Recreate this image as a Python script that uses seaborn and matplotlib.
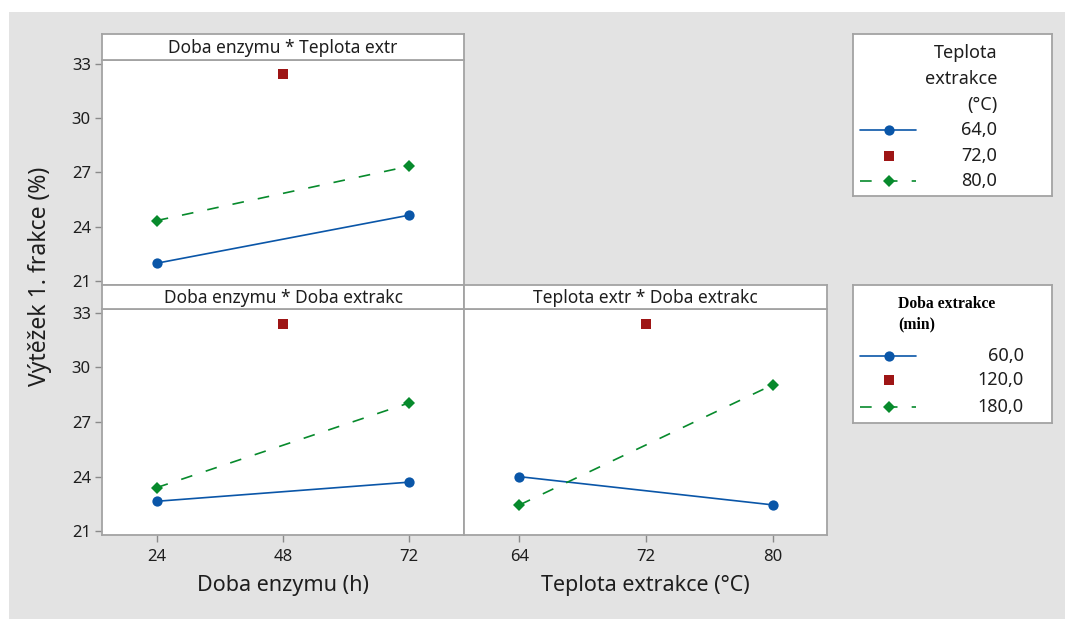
import matplotlib
matplotlib.use("Agg")
import matplotlib.pyplot as plt
import pandas as pd
import seaborn as sns
from matplotlib.lines import Line2D
from matplotlib.patches import Rectangle

sns.set_theme(style="white")
plt.rcParams['font.family'] = ['Noto Sans', 'DejaVu Sans']

# factor levels
enzyme_h = [24, 48, 72]
temp_c = [64, 72, 80]
time_min = [60, 120, 180]

# mean yields of the 1st fraction (%) for each interaction
enz_temp_64 = [22.0, 24.65]
enz_temp_72 = [32.45]
enz_temp_80 = [24.35, 27.35]

enz_time_60 = [22.65, 23.7]
enz_time_120 = [32.4]
enz_time_180 = [23.4, 28.05]

temp_time_60 = [24.0, 22.45]
temp_time_120 = [32.4]
temp_time_180 = [22.45, 29.05]

temp_labels = ["64,0", "72,0", "80,0"]
time_labels = ["60,0", "120,0", "180,0"]
y_ticks = [21, 24, 27, 30, 33]

panel_titles = ["Doba enzymu * Teplota extr",
                "Doba enzymu * Doba extrakc",
                "Teplota extr * Doba extrakc"]

W, H = 1065, 619
BLUE, RED, GREEN = "#0a56a8", "#9e1515", "#078a2c"
FRAME = "#a3a3a3"
TXT = "#1e1e1e"

# style per level position: low (blue, circle, solid), centre (red square), high (green diamond, dashed)
STYLES = [
    dict(color=BLUE, marker="o", markersize=7.4, linestyle="-", linewidth=1.2),
    dict(color=RED, marker="s", markersize=6.8, linestyle="none"),
    dict(color=GREEN, marker="D", markersize=6.2, linestyle=(0, (7, 8.5)), linewidth=1.2),
]


def series_frame(xlev, low, mid, high):
    rows = []
    for i, (xs, ys) in enumerate([([xlev[0], xlev[2]], low),
                                  ([xlev[1]], mid),
                                  ([xlev[0], xlev[2]], high)]):
        for x, y in zip(xs, ys):
            rows.append(dict(x=x, y=y, level=i))
    return pd.DataFrame(rows)


fig = plt.figure(figsize=(W / 100, H / 100), dpi=100)
fig.patch.set_facecolor("white")
fig.add_artist(Rectangle((9 / W, 0), 1 - 9 / W, 1 - 12 / H,
                         transform=fig.transFigure, facecolor="#e3e3e3",
                         edgecolor="none", zorder=-5))


def px_axes(x0, y0, x1, y1):
    return fig.add_axes([x0 / W, 1 - y1 / H, (x1 - x0) / W, (y1 - y0) / H])


def frame_axes(ax):
    for s in ax.spines.values():
        s.set_color(FRAME)
        s.set_linewidth(1.3)


def strip(x0, y0, x1, y1, title):
    sa = px_axes(x0, y0, x1, y1)
    sa.set_facecolor("white")
    sa.set_xticks([])
    sa.set_yticks([])
    frame_axes(sa)
    sa.text(0.5, 0.45, title, ha="center", va="center", fontsize=12.5,
            color=TXT, transform=sa.transAxes)


def panel(x0, y0, x1, y1, df, xlev, xlim, show_x, show_y):
    ax = px_axes(x0, y0, x1, y1)
    ax.set_facecolor("white")
    for i, st in enumerate(STYLES):
        sub = df[df["level"] == i]
        sns.lineplot(data=sub, x="x", y="y", ax=ax, estimator=None,
                     sort=True, legend=False, markeredgewidth=0, **st)
    ax.set_xlim(*xlim)
    ax.set_ylim(20.8, 33.2)
    ax.set_xlabel("")
    ax.set_ylabel("")
    frame_axes(ax)
    ax.tick_params(direction="out", length=5, width=1, color="#8a8a8a",
                   labelsize=12, labelcolor=TXT, pad=3,
                   bottom=show_x, left=show_y,
                   labelbottom=show_x, labelleft=show_y)
    ax.set_yticks(y_ticks)
    if show_x:
        ax.set_xticks(xlev)
        ax.tick_params(axis="x", pad=5)
    else:
        ax.set_xticks([])
    if not show_y:
        ax.set_yticks([])
    return ax


df1 = series_frame(enzyme_h, enz_temp_64, enz_temp_72, enz_temp_80)
df2 = series_frame(enzyme_h, enz_time_60, enz_time_120, enz_time_180)
df3 = series_frame(temp_c, temp_time_60, temp_time_120, temp_time_180)

enz_lim = (13.6, 82.4)
temp_lim = (60.5, 83.4)

panel(102, 60, 464, 285, df1, enzyme_h, enz_lim, False, True)
strip(102, 34, 464, 60, panel_titles[0])
panel(102, 309, 464, 535, df2, enzyme_h, enz_lim, True, True)
strip(102, 285, 464, 309, panel_titles[1])
panel(464, 309, 827, 535, df3, temp_c, temp_lim, True, False)
strip(464, 285, 827, 309, panel_titles[2])

fig.text(40 / W, 1 - 276 / H, "Výtěžek 1. frakce (%)", rotation=90,
         ha="center", va="center", fontsize=16.5, color=TXT)
fig.text(283 / W, 1 - 585 / H, "Doba enzymu (h)", ha="center", va="center",
         fontsize=15.5, color=TXT)
fig.text(645 / W, 1 - 585 / H, "Teplota extrakce (°C)", ha="center",
         va="center", fontsize=15.5, color=TXT)


def legend_box(x0, y0, x1, y1):
    la = px_axes(x0, y0, x1, y1)
    la.set_facecolor("white")
    la.set_xlim(0, x1 - x0)
    la.set_ylim(y1 - y0, 0)
    la.set_xticks([])
    la.set_yticks([])
    frame_axes(la)
    return la


def legend_entries(la, ys, labels, label_x):
    for st, y, lab in zip(STYLES, ys, labels):
        if st["linestyle"] != "none":
            la.add_line(Line2D([7, 63], [y, y], color=st["color"],
                               linestyle=st["linestyle"],
                               linewidth=st["linewidth"]))
        la.add_line(Line2D([36], [y], color=st["color"], marker=st["marker"],
                           markersize=st["markersize"], markeredgewidth=0,
                           linestyle="none"))
        la.text(label_x, y, lab, ha="right", va="center", fontsize=13,
                color=TXT)


# legend for extraction temperature
la1 = legend_box(853, 34, 1052, 196)
for txt, y in zip(["Teplota", "extrakce", "(°C)"], [19, 45, 71]):
    la1.text(144, y, txt, ha="right", va="center", fontsize=13, color=TXT)
legend_entries(la1, [96, 122, 147], temp_labels, 144)

# legend for extraction time
la2 = legend_box(853, 285, 1052, 423)
la2.text(45, 19, "Doba extrakce", ha="left", va="center", fontsize=11.3,
         fontweight="bold", family="Liberation Serif", color="black")
la2.text(45, 39, "(min)", ha="left", va="center", fontsize=11.3,
         fontweight="bold", family="Liberation Serif", color="black")
legend_entries(la2, [71, 95, 122], time_labels, 171)

fig.savefig("out.png", dpi=100)
